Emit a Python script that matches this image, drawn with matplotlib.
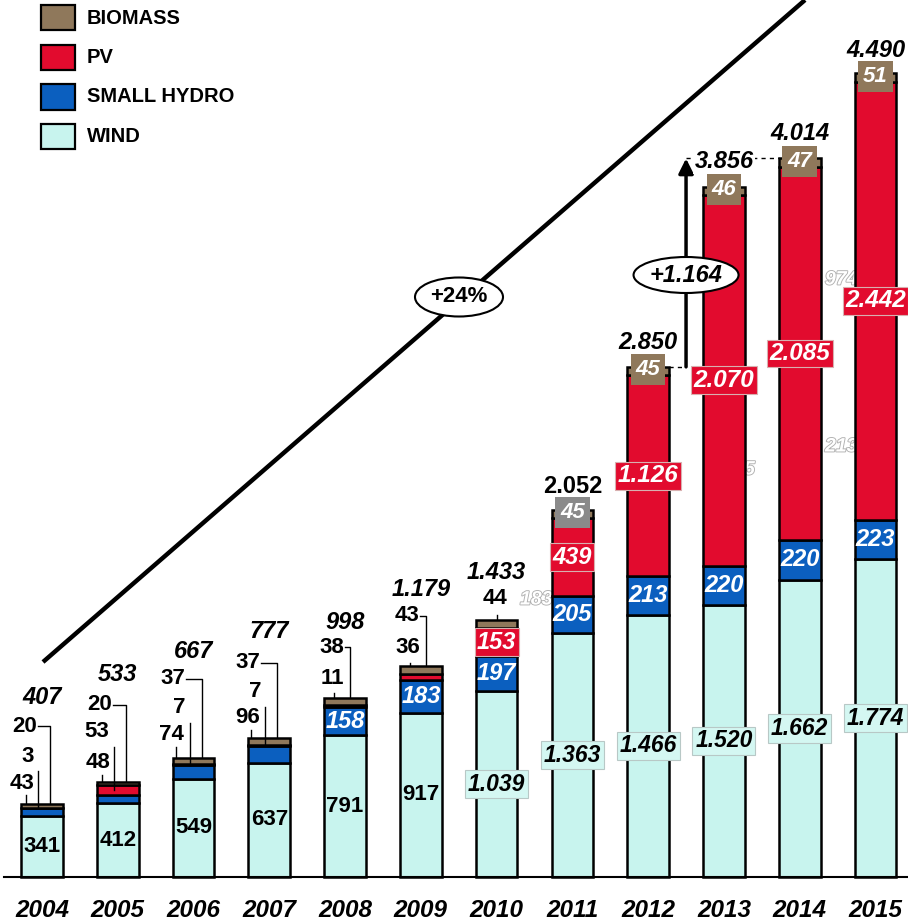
import numpy as np
import matplotlib.pyplot as plt
from matplotlib.patches import Ellipse, Rectangle
import matplotlib.patheffects as pe

plt.rcParams["font.family"] = ["Liberation Sans", "DejaVu Sans"]

years = ["2004", "2005", "2006", "2007", "2008", "2009",
         "2010", "2011", "2012", "2013", "2014", "2015"]
wind = [341, 412, 549, 637, 791, 917, 1039, 1363, 1466, 1520, 1662, 1774]
hydro = [43, 48, 74, 96, 158, 183, 197, 205, 213, 220, 220, 223]
pv = [3, 53, 7, 7, 11, 36, 153, 439, 1126, 2070, 2085, 2442]
biomass = [20, 20, 37, 37, 38, 43, 44, 45, 45, 46, 47, 51]
totals = [407, 533, 667, 777, 998, 1179, 1433, 2052, 2850, 3856, 4014, 4490]
series_names = ["BIOMASS", "PV", "SMALL HYDRO", "WIND"]
growth_label = "+24%"
jump_label = "+1.164"
ghost_labels = ["974", "213", "183", "5"]

WIND_C = "#C8F4EE"
HYDRO_C = "#0B5FBF"
PV_C = "#E20B2E"
BIO_C = "#8F785B"
colors = [BIO_C, PV_C, HYDRO_C, WIND_C]


def fmt(v):
    return f"{v:,}".replace(",", ".")


# pixel scale of the picture
PXX = 75.77   # px per bar step
PXY = 0.179   # px per unit
W = 0.55


def dx(px):
    return px / PXX


def dy(px):
    return px / PXY


fig = plt.figure(figsize=(9.08, 9.21), dpi=100)
ax = fig.add_axes([0, 0, 1, 1])
ax.axis("off")

x = np.arange(len(years))
wind_a = np.array(wind)
hydro_a = np.array(hydro)
pv_a = np.array(pv)
bio_a = np.array(biomass)

kw = dict(width=W, edgecolor="black", linewidth=1.8, zorder=3)
ax.bar(x, wind_a, color=WIND_C, **kw)
ax.bar(x, hydro_a, bottom=wind_a, color=HYDRO_C, **kw)
ax.bar(x, pv_a, bottom=wind_a + hydro_a, color=PV_C, **kw)
ax.bar(x, bio_a, bottom=wind_a + hydro_a + pv_a, color=BIO_C, **kw)
tops = wind_a + hydro_a + pv_a + bio_a

ax.axhline(0, xmin=4 / 908, xmax=1, color="black", lw=1.5, zorder=4)

bold_it = dict(fontweight="bold", fontstyle="italic")

# years
for i, y in enumerate(years):
    ax.text(i, -dy(33), y, ha="center", va="center", fontsize=17.5, **bold_it)

# wind labels
for i, v in enumerate(wind):
    if i < 6:
        ax.text(i, v / 2, fmt(v), ha="center", va="center", fontsize=16,
                fontweight="bold", zorder=5)
    else:
        ax.text(i, v / 2, fmt(v), ha="center", va="center", fontsize=16.5,
                zorder=5, **bold_it,
                bbox=dict(boxstyle="square,pad=0.12", fc="#D4F7F2", ec="#B8C8C6", lw=0.8))

# hydro labels
for i, v in enumerate(hydro):
    if i >= 4:
        ax.text(i, wind[i] + v / 2, fmt(v), ha="center", va="center",
                fontsize=17, color="white", zorder=5, **bold_it)

# pv labels
for i, v in enumerate(pv):
    if i >= 6:
        ax.text(i, wind[i] + hydro[i] + v / 2, fmt(v), ha="center", va="center",
                fontsize=17.5 if i >= 8 else 17, color="white", zorder=5, **bold_it,
                bbox=dict(boxstyle="square,pad=0.1", fc=PV_C, ec="#D8B0B0", lw=0.8))

# biomass labels on top of the big bars
for i, v in enumerate(biomass):
    if i >= 7:
        fc = "#8A8A8A" if i == 7 else BIO_C
        ax.text(i, tops[i] - dy(3), fmt(v), ha="center", va="center",
                fontsize=16, color="white", zorder=6, **bold_it,
                bbox=dict(boxstyle="square,pad=0.22", fc=fc, ec="none"))

# small labels with leader lines (2004-2010)
lw_l = 1.0
bio_off = [78, 77, 79, 75, 51, 50, 22]
bio_dx = [-17, -18, -21, -21, -13, -14, -2]
for i in range(7):
    tx = i + dx(bio_dx[i])
    ty = tops[i] + dy(bio_off[i])
    ax.text(tx, ty, fmt(biomass[i]), ha="center", va="center", fontsize=16,
            fontweight="bold", zorder=5)
    if i < 6:
        lx = i + dx(8 if i < 4 else 5)
        ax.plot([tx + dx(13), lx, lx], [ty, ty, tops[i]], color="black", lw=lw_l, zorder=2)
    else:
        ax.plot([i, i], [ty - dy(17), tops[i]], color="black", lw=lw_l, zorder=2)

pv_off = [48, 50, 50, 46, 20, 18]
pv_dx = [-14, -21, -14, -14, -13, -13]
for i in range(6):
    tx = i + dx(pv_dx[i])
    ty = tops[i] + dy(pv_off[i])
    ax.text(tx, ty, fmt(pv[i]), ha="center", va="center", fontsize=16,
            fontweight="bold", zorder=5)
    if i < 4:
        lx = i - dx(4)
        ax.plot([lx, lx], [ty - dy(15), wind[i] + hydro[i] + pv[i] / 2],
                color="black", lw=lw_l, zorder=4)
    else:
        lx = i - dx(11)
        ax.plot([lx, lx], [ty - dy(15), tops[i]], color="black", lw=lw_l, zorder=2)

hyd_off = [21, 19, 23, 20]
hyd_dx = [-20, -20, -22, -22]
for i in range(4):
    tx = i + dx(hyd_dx[i])
    ty = tops[i] + dy(hyd_off[i])
    ax.text(tx, ty, fmt(hydro[i]), ha="center", va="center", fontsize=16,
            fontweight="bold", zorder=5)
    ax.plot([tx + dx(4), tx + dx(4)], [ty - dy(12), tops[i]], color="black", lw=lw_l, zorder=2)

# totals
tot_off = [107, 107, 106, 106, 76, 76, 48, 23, 24, 0, 25, 23]
for i, t in enumerate(totals):
    if i == 9:
        continue
    style = "normal" if i == 7 else "italic"
    ax.text(i, t + dy(tot_off[i]), fmt(t), ha="center", va="center", fontsize=17,
            fontweight="bold", fontstyle=style, zorder=5)

# jump annotation 2012 -> 2014
ax.plot([8 + W / 2, 8.5], [totals[8], totals[8]], color="black", lw=1, ls=(0, (3, 3)), zorder=2)
ax.plot([8.5, 10 - W / 2], [totals[10], totals[10]], color="black", lw=1, ls=(0, (3, 3)), zorder=2)
ax.annotate("", xy=(8.5, totals[10]), xytext=(8.5, totals[8]),
            arrowprops=dict(arrowstyle="-|>", lw=2.5, color="black",
                            mutation_scale=22, shrinkA=0, shrinkB=0), zorder=4)
ax.text(9.0, totals[10] - dy(3), fmt(totals[9]), ha="center", va="center", fontsize=17,
        zorder=5, **bold_it, bbox=dict(boxstyle="square,pad=0.05", fc="white", ec="none"))
ax.add_patch(Ellipse((8.5, dy(877 - 275)), dx(105), dy(36), fc="white", ec="black",
                     lw=1.5, zorder=6))
ax.text(8.5, dy(877 - 275), jump_label, ha="center", va="center", fontsize=17,
        zorder=7, **bold_it)

# growth trend line
ax.plot([dx(1), dx(805 - 42)], [dy(877 - 662), dy(877)], color="black", lw=3.2,
        solid_capstyle="butt", zorder=2)
ax.add_patch(Ellipse((dx(459 - 42), dy(877 - 297)), dx(88), dy(39), fc="white",
                     ec="black", lw=1.5, zorder=6))
ax.text(dx(459 - 42), dy(877 - 297), growth_label, ha="center", va="center",
        fontsize=16, fontweight="bold", zorder=7)

# faint ghost labels behind the bars
ghost_pos = [(825, 280), (825, 447), (520, 600), (744, 470)]
for lab, (gx, gy) in zip(ghost_labels, ghost_pos):
    ax.text(dx(gx - 42), dy(877 - gy), lab, ha="left", va="center", fontsize=14,
            color="white", zorder=1, **bold_it,
            path_effects=[pe.withStroke(linewidth=1.3, foreground="#B0B0B0")])

# legend
for k, (name, c) in enumerate(zip(series_names, colors)):
    yc = 18 + k * 39.5
    fig.patches.append(Rectangle((41 / 908, 1 - (yc + 12.5) / 921), 34 / 908, 25 / 921,
                                 transform=fig.transFigure, fc=c, ec="black", lw=1.6))
    fig.text(87 / 908, 1 - yc / 921, name, ha="left", va="center", fontsize=14.5,
             fontweight="bold")

ax.set_xlim(-dx(42), dx(908 - 42))
ax.set_ylim(-dy(921 - 877), dy(877))

plt.savefig("out.png", dpi=100)
